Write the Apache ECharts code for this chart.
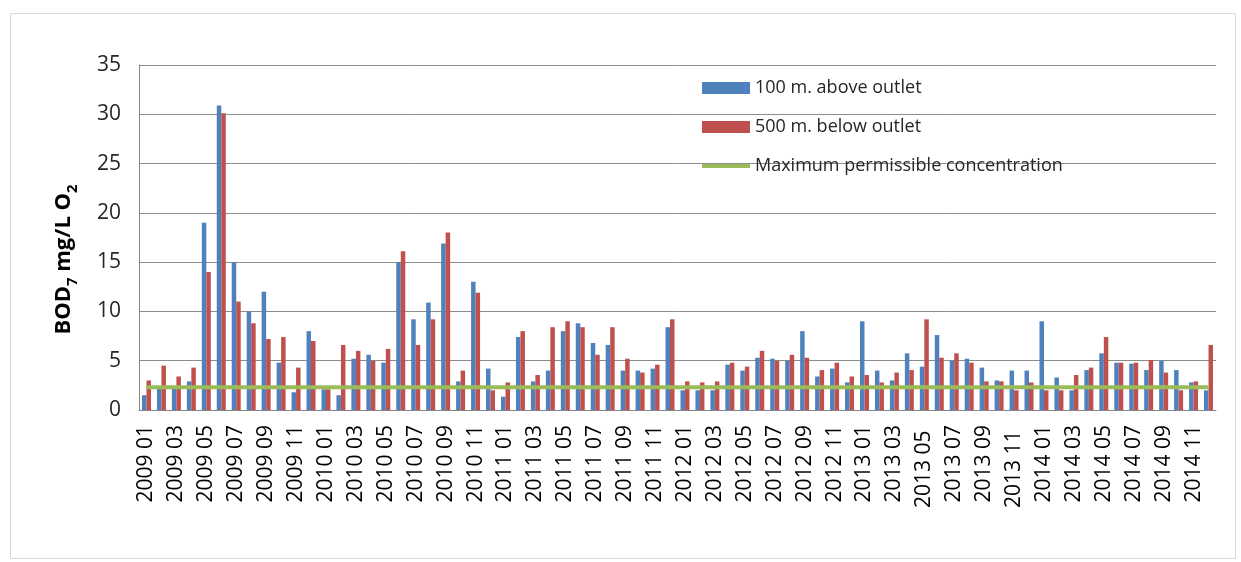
<!DOCTYPE html>
<html>
<head>
<meta charset="utf-8">
<script src="https://cdn.jsdelivr.net/npm/echarts@6/dist/echarts.min.js"></script>
<style>
html,body{margin:0;padding:0;background:#fff;}
#chart{width:1241px;height:562px;}
</style>
</head>
<body>
<div id="chart"></div>
<script>
const categories = [
 '2009 01','2009 02','2009 03','2009 04','2009 05','2009 06','2009 07','2009 08','2009 09','2009 10','2009 11','2009 12',
 '2010 01','2010 02','2010 03','2010 04','2010 05','2010 06','2010 07','2010 08','2010 09','2010 10','2010 11','2010 12',
 '2011 01','2011 02','2011 03','2011 04','2011 05','2011 06','2011 07','2011 08','2011 09','2011 10','2011 11','2011 12',
 '2012 01','2012 02','2012 03','2012 04','2012 05','2012 06','2012 07','2012 08','2012 09','2012 10','2012 11','2012 12',
 '2013 01','2013 02','2013 03','2013 04','2013 05 ','2013 06','2013 07','2013 08','2013 09','2013 10','2013 11 ','2013 12',
 '2014 01','2014 02','2014 03','2014 04','2014 05','2014 06','2014 07','2014 08','2014 09','2014 10','2014 11','2014 12'
];
const above100 = [
 1.5, 2.2, 2.2, 2.9, 19.0, 30.9, 15.0, 10.0, 12.0, 4.8, 1.8, 8.0,
 2.1, 1.5, 5.2, 5.6, 4.8, 15.0, 9.2, 10.9, 16.9, 2.9, 13.0, 4.2,
 1.35, 7.4, 2.9, 4.0, 8.0, 8.8, 6.8, 6.6, 4.0, 4.0, 4.2, 8.4,
 2.0, 2.0, 2.0, 4.6, 4.0, 5.3, 5.2, 5.0, 8.0, 3.4, 4.2, 2.8,
 9.0, 4.0, 3.0, 5.75, 4.4, 7.6, 5.0, 5.2, 4.3, 3.0, 4.0, 4.0,
 9.0, 3.3, 2.0, 4.05, 5.75, 4.8, 4.7, 4.05, 5.0, 4.05, 2.8, 2.0
];
const below500 = [
 3.0, 4.5, 3.4, 4.3, 14.0, 30.1, 11.0, 8.8, 7.2, 7.4, 4.3, 7.0,
 2.1, 6.6, 6.0, 5.0, 6.2, 16.1, 6.6, 9.2, 18.0, 4.0, 11.9, 2.0,
 2.8, 8.0, 3.55, 8.4, 9.0, 8.4, 5.6, 8.4, 5.2, 3.8, 4.6, 9.2,
 2.9, 2.8, 2.9, 4.8, 4.4, 6.0, 5.0, 5.6, 5.3, 4.05, 4.8, 3.4,
 3.55, 2.8, 3.8, 4.05, 9.2, 5.3, 5.75, 4.8, 2.9, 2.9, 2.0, 2.8,
 2.0, 2.0, 3.55, 4.3, 7.4, 4.8, 4.8, 5.07, 3.8, 2.0, 2.9, 6.6
];
const maxPermissible = 2.3;
const seriesNames = ['100 m. above outlet', '500 m. below outlet', 'Maximum permissible concentration'];
const yTicks = [0, 5, 10, 15, 20, 25, 30, 35];

const FONT = 'Open Sans';
const chart = echarts.init(document.getElementById('chart'), null, {renderer: 'canvas'});
chart.setOption({
  animation: false,
  backgroundColor: '#fff',
  textStyle: {fontFamily: FONT},
  graphic: [{
    type: 'rect', shape: {x: 10.5, y: 13.5, width: 1225, height: 545},
    style: {fill: 'none', stroke: '#d9d9d9', lineWidth: 1}, z: -1
  }],
  grid: {left: 139, right: 25, top: 65, bottom: 152, containLabel: false},
  legend: {
    orient: 'vertical', left: 695, top: 74,
    itemWidth: 48, itemHeight: 12, itemGap: 21,
    textStyle: {fontFamily: FONT, fontSize: 18, color: '#262626'},
    data: [
      {name: seriesNames[0], icon: 'rect'},
      {name: seriesNames[1], icon: 'rect'},
      {name: seriesNames[2], itemStyle: {opacity: 0}, lineStyle: {width: 4, color: '#9BBB59'}}
    ]
  },
  xAxis: {
    type: 'category', data: categories, boundaryGap: true,
    axisLine: {lineStyle: {color: '#868686', width: 1}},
    axisTick: {show: false},
    axisLabel: {interval: 1, rotate: 90, fontFamily: FONT, fontSize: 21, color: '#000', margin: 15}
  },
  yAxis: {
    type: 'value', min: yTicks[0], max: yTicks[yTicks.length - 1], interval: 5,
    axisLine: {show: true, lineStyle: {color: '#868686'}},
    axisTick: {show: false},
    splitLine: {lineStyle: {color: '#8c8c8c', width: 1}},
    axisLabel: {fontFamily: FONT, fontSize: 21, color: '#262626', margin: 18},
    name: '{a|BOD}{s|7}{a| mg/L O}{s|2}',
    nameLocation: 'middle', nameGap: 64, nameRotate: 90,
    nameTextStyle: {
      padding: [0, 44, 0, 0],
      rich: {
        a: {fontFamily: FONT, fontSize: 22, fontWeight: 'bold', color: '#000', lineHeight: 28, verticalAlign: 'bottom'},
        s: {fontFamily: FONT, fontSize: 15, fontWeight: 'bold', color: '#000', lineHeight: 28, verticalAlign: 'bottom', padding: [0, 0, -5, 0]}
      }
    }
  },
  series: [
    {name: seriesNames[0], type: 'bar', data: above100, barWidth: 4.5, barGap: '0%', itemStyle: {color: '#4F81BD'}},
    {name: seriesNames[1], type: 'bar', data: below500, barWidth: 4.5, barGap: '0%', itemStyle: {color: '#C0504D'}},
    {name: seriesNames[2], type: 'line', symbol: 'none', showSymbol: false,
     data: [[categories[0], maxPermissible], [categories[categories.length - 1], maxPermissible]],
     lineStyle: {color: '#9BBB59', width: 4}, itemStyle: {color: '#9BBB59'}, z: 5}
  ]
});
</script>
</body>
</html>
